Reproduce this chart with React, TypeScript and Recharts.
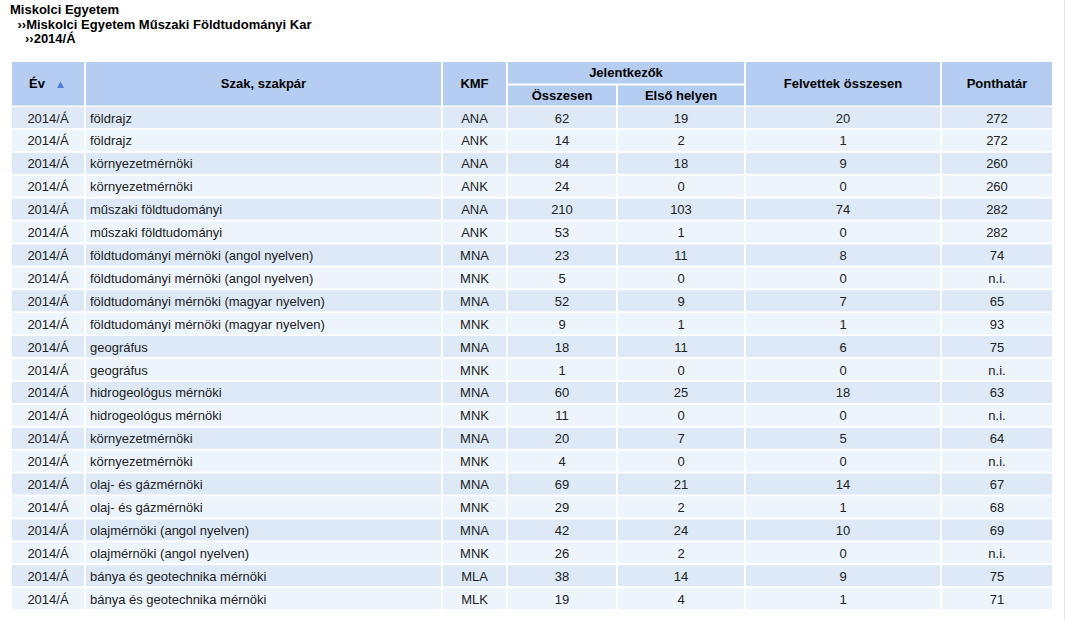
import React from 'react';
import { BarChart, Bar, XAxis, YAxis, Customized } from 'recharts';

const titleLines = ['Miskolci Egyetem', '››Miskolci Egyetem Műszaki Földtudományi Kar', '››2014/Á'];

const years = Array(22).fill('2014/Á');
const majors = [
  'földrajz', 'földrajz', 'környezetmérnöki', 'környezetmérnöki',
  'műszaki földtudományi', 'műszaki földtudományi',
  'földtudományi mérnöki (angol nyelven)', 'földtudományi mérnöki (angol nyelven)',
  'földtudományi mérnöki (magyar nyelven)', 'földtudományi mérnöki (magyar nyelven)',
  'geográfus', 'geográfus', 'hidrogeológus mérnöki', 'hidrogeológus mérnöki',
  'környezetmérnöki', 'környezetmérnöki', 'olaj- és gázmérnöki', 'olaj- és gázmérnöki',
  'olajmérnöki (angol nyelven)', 'olajmérnöki (angol nyelven)',
  'bánya és geotechnika mérnöki', 'bánya és geotechnika mérnöki',
];
const kmf = [
  'ANA', 'ANK', 'ANA', 'ANK', 'ANA', 'ANK', 'MNA', 'MNK', 'MNA', 'MNK', 'MNA',
  'MNK', 'MNA', 'MNK', 'MNA', 'MNK', 'MNA', 'MNK', 'MNA', 'MNK', 'MLA', 'MLK',
];
const appliedTotal = [62, 14, 84, 24, 210, 53, 23, 5, 52, 9, 18, 1, 60, 11, 20, 4, 69, 29, 42, 26, 38, 19];
const appliedFirst = [19, 2, 18, 0, 103, 1, 11, 0, 9, 1, 11, 0, 25, 0, 7, 0, 21, 2, 24, 2, 14, 4];
const admitted = [20, 1, 9, 0, 74, 0, 8, 0, 7, 1, 6, 0, 18, 0, 5, 0, 14, 1, 10, 0, 9, 1];
const threshold: (number | null)[] = [272, 272, 260, 260, 282, 282, 74, null, 65, 93, 75, null, 63, null, 64, null, 67, 68, 69, null, 75, 71];

const rows = years.map((year, i) => ({
  idx: i,
  year,
  major: majors[i],
  kmf: kmf[i],
  total: appliedTotal[i],
  first: appliedFirst[i],
  admitted: admitted[i],
  threshold: threshold[i] === null ? 'n.i.' : String(threshold[i]),
  span: 1,
}));

// column edges in px
const cols = [11, 85, 442, 507, 617, 745, 941, 1053];
const FONT = '"Liberation Sans", Arial, sans-serif';
const HEAD_BG = '#b4cdf0';
const ODD_BG = '#dde9f7';
const EVEN_BG = '#eef4fc';

const cell = (i: number) => ({ x0: cols[i] + 1, x1: cols[i + 1] - 1 });

const RowShape = (props: any) => {
  const { y, height } = props;
  const p = props.payload ?? props;
  const fill = p.idx % 2 === 0 ? ODD_BG : EVEN_BG;
  const h = height - 2;
  const cy = y + h / 2 + 0.5;
  const values = [p.year, p.major, p.kmf, p.total, p.first, p.admitted, p.threshold];
  return (
    <g>
      {values.map((v, i) => {
        const { x0, x1 } = cell(i);
        const left = i === 1;
        return (
          <g key={i}>
            <rect x={x0} y={y} width={x1 - x0} height={h} fill={fill} />
            <text
              x={left ? x0 + 4 : (x0 + x1) / 2}
              y={cy}
              textAnchor={left ? 'start' : 'middle'}
              dominantBaseline="central"
              fontSize={13}
              fontFamily={FONT}
              fill="#222"
            >
              {v}
            </text>
          </g>
        );
      })}
    </g>
  );
};

const Header = () => {
  const top = 62;
  const bottom = 105.5;
  const mid = 84.5;
  const headText = (x: number, y: number, t: string) => (
    <text x={x} y={y} textAnchor="middle" dominantBaseline="central" fontSize={13} fontWeight="bold" fontFamily={FONT} fill="#000">
      {t}
    </text>
  );
  const full = (i: number, t: string) => {
    const { x0, x1 } = cell(i);
    return (
      <g key={t}>
        <rect x={x0} y={top} width={x1 - x0} height={bottom - top} fill={HEAD_BG} />
        {headText((x0 + x1) / 2, (top + bottom) / 2, t)}
      </g>
    );
  };
  const c0 = cell(0);
  const j0 = cell(3).x0;
  const j1 = cell(4).x1;
  return (
    <g>
      {titleLines.map((t, i) => (
        <text key={t} x={10 + i * 7.5} y={14 + i * 14.5} fontSize={13} fontWeight="bold" fontFamily={FONT} fill="#000">
          {t}
        </text>
      ))}
      <rect x={c0.x0} y={top} width={c0.x1 - c0.x0} height={bottom - top} fill={HEAD_BG} />
      <text x={29} y={83.5} dominantBaseline="central" fontSize={13} fontWeight="bold" fontFamily={FONT} fill="#000">Év</text>
      <polygon points="57,88 64,88 60.5,81.5" fill="#4a7fd6" />
      {full(1, 'Szak, szakpár')}
      {full(2, 'KMF')}
      <rect x={j0} y={top} width={j1 - j0} height={mid - 1 - top} fill={HEAD_BG} />
      {headText((j0 + j1) / 2, (top + mid - 1) / 2, 'Jelentkezők')}
      {[3, 4].map((i) => {
        const { x0, x1 } = cell(i);
        return (
          <g key={i}>
            <rect x={x0} y={mid + 1} width={x1 - x0} height={bottom - mid - 1} fill={HEAD_BG} />
            {headText((x0 + x1) / 2, (mid + 1 + bottom) / 2, i === 3 ? 'Összesen' : 'Első helyen')}
          </g>
        );
      })}
      {full(5, 'Felvettek összesen')}
      {full(6, 'Ponthatár')}
      <rect x={1064} y={0} width={1} height={621} fill="#e4e4e4" />
    </g>
  );
};

export default function App() {
  return (
    <div style={{ position: 'absolute', top: 0, left: 0, width: 1066, height: 621, background: '#fff', overflow: 'visible' }}>
      <BarChart
        width={1066}
        height={621}
        data={rows}
        layout="vertical"
        margin={{ top: 107, right: 13, bottom: 10, left: 11 }}
        barCategoryGap={0}
        style={{ overflow: 'visible' }}
      >
        <XAxis type="number" domain={[0, 1]} hide />
        <YAxis type="category" dataKey="idx" hide />
        <Customized component={Header} />
        <Bar dataKey="span" shape={RowShape} isAnimationActive={false} />
      </BarChart>
    </div>
  );
}
